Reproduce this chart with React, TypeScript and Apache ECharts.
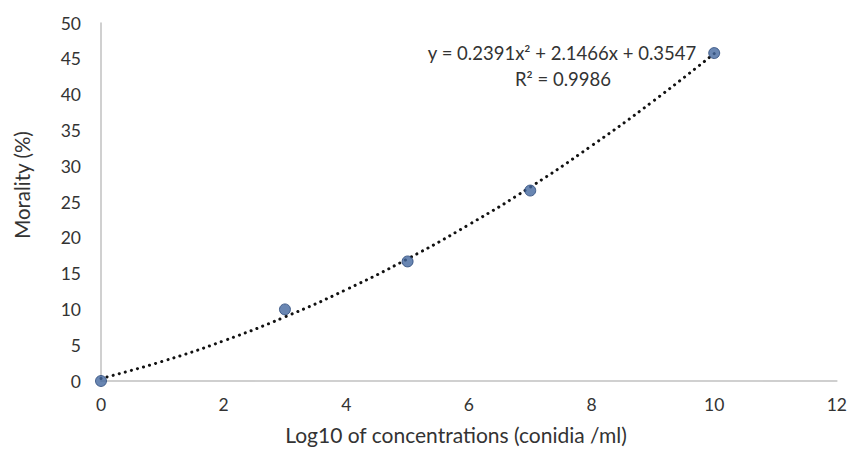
import React, { useEffect, useRef } from "react";
import * as echarts from "echarts";

const xValues = [0, 3, 5, 7, 10];
const mortality = [0, 10, 16.7, 26.6, 45.8];
const trendX = [0, 1, 2, 3, 4, 5, 6, 7, 8, 9, 10];
const trendY = [0.35, 2.74, 5.61, 8.95, 12.77, 17.06, 21.84, 27.07, 32.85, 39.05, 45.73];
const equationText = "y = 0.2391x² + 2.1466x + 0.3547";
const r2Text = "R² = 0.9986";
const xTitle = "Log10 of concentrations (conidia /ml)";
const yTitle = "Morality (%)";

const FONT = "Lato, 'Open Sans', sans-serif";
const TEXT = "#333333";

export default function App() {
  const ref = useRef<HTMLDivElement>(null);
  useEffect(() => {
    if (!ref.current) return;
    const chart = echarts.init(ref.current, undefined, { renderer: "svg" });
    chart.setOption({
      animation: false,
      backgroundColor: "#ffffff",
      textStyle: { fontFamily: FONT },
      grid: { left: 101, right: 10, top: 23, bottom: 69, containLabel: false },
      xAxis: {
        type: "value",
        min: 0,
        max: 12,
        interval: 2,
        axisLine: { show: true, lineStyle: { color: "#c0c0c0", width: 1.5 } },
        axisTick: { show: false },
        splitLine: { show: false },
        axisLabel: { fontSize: 17.5, color: TEXT, margin: 14, fontFamily: FONT },
      },
      yAxis: {
        type: "value",
        min: 0,
        max: 50,
        interval: 5,
        axisLine: { show: true, lineStyle: { color: "#c0c0c0", width: 1.5 } },
        axisTick: { show: false },
        splitLine: { show: false },
        axisLabel: { fontSize: 17.5, color: TEXT, margin: 20, fontFamily: FONT },
      },
      series: [
        {
          type: "line",
          data: trendX.map((x, i) => [x, trendY[i]]),
          smooth: true,
          showSymbol: false,
          lineStyle: { color: "#111111", width: 3, type: [0.1, 6.2], cap: "round" },
          z: 2,
        },
        {
          type: "scatter",
          data: xValues.map((x, i) => [x, mortality[i]]),
          symbol: "circle",
          symbolSize: 11,
          itemStyle: { color: "#44689f", borderColor: "#2c4a7a", borderWidth: 1 },
          z: 3,
        },
      ],
      graphic: [
        {
          type: "text",
          x: 562,
          y: 53,
          style: { text: equationText, fontSize: 18.5, fill: TEXT, fontFamily: FONT, align: "center", verticalAlign: "middle" },
        },
        {
          type: "text",
          x: 563,
          y: 79,
          style: { text: r2Text, fontSize: 18.5, fill: TEXT, fontFamily: FONT, align: "center", verticalAlign: "middle" },
        },
        {
          type: "text",
          x: 456,
          y: 434,
          style: { text: xTitle, fontSize: 21, fill: TEXT, fontFamily: FONT, align: "center", verticalAlign: "middle" },
        },
        {
          type: "text",
          x: 22,
          y: 185,
          rotation: Math.PI / 2,
          style: { text: yTitle, fontSize: 20.5, fill: TEXT, fontFamily: FONT, align: "center", verticalAlign: "middle" },
        },
      ],
    });
    return () => chart.dispose();
  }, []);
  return <div ref={ref} style={{ position: "absolute", left: 0, top: 0, width: 850, height: 450 }} />;
}
